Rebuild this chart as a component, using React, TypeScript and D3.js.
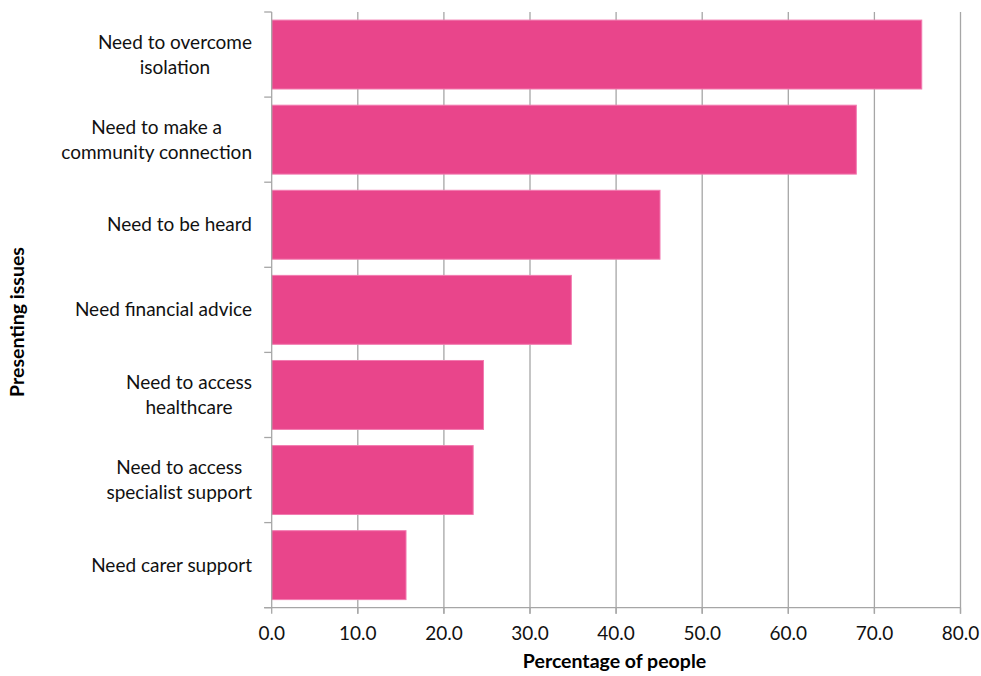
import React, { useEffect, useRef } from "react";
import * as d3 from "d3";

const categories = [
  "Need to overcome\nisolation",
  "Need to make a\ncommunity connection",
  "Need to be heard",
  "Need financial advice",
  "Need to access\nhealthcare",
  "Need to access\nspecialist support",
  "Need carer support",
];
const values = [75.5, 67.9, 45.1, 34.8, 24.6, 23.4, 15.6];
const xTicks = [0, 10, 20, 30, 40, 50, 60, 70, 80];
const xTitle = "Percentage of people";
const yTitle = "Presenting issues";

const W = 981;
const H = 676;
const FONT = "Lato, 'Open Sans', sans-serif";

export default function App() {
  const ref = useRef<SVGSVGElement | null>(null);

  useEffect(() => {
    const svg = d3.select(ref.current);
    svg.selectAll("*").remove();

    const left = 271.7;
    const right = 960.5;
    const top = 12;
    const bottom = 607.7;
    const grid = "#a6a6a6";
    const fs = 19;
    const tfs = 19.5;

    const x = d3.scaleLinear().domain([0, 80]).range([left, right]);
    const y = d3
      .scaleBand<number>()
      .domain(d3.range(categories.length))
      .range([top, bottom])
      .paddingInner(0.19)
      .paddingOuter(0.095);

    // gridlines
    svg
      .append("g")
      .selectAll("line")
      .data(xTicks.filter((t) => t > 0))
      .join("line")
      .attr("x1", (d) => x(d))
      .attr("x2", (d) => x(d))
      .attr("y1", top)
      .attr("y2", bottom + 6)
      .attr("stroke", grid)
      .attr("stroke-width", 1.3);

    // bars
    svg
      .append("g")
      .selectAll("rect")
      .data(values)
      .join("rect")
      .attr("x", x(0))
      .attr("y", (_, i) => y(i)!)
      .attr("width", (d) => x(d) - x(0))
      .attr("height", y.bandwidth())
      .attr("fill", "#e9458b")
      .attr("stroke", "#f27bb0")
      .attr("stroke-width", 1);

    // y axis line + ticks
    svg
      .append("line")
      .attr("x1", left)
      .attr("x2", left)
      .attr("y1", top)
      .attr("y2", bottom)
      .attr("stroke", grid)
      .attr("stroke-width", 1.3);
    const step = y.step();
    svg
      .append("g")
      .selectAll("line")
      .data(d3.range(categories.length + 1))
      .join("line")
      .attr("x1", left - 7.5)
      .attr("x2", left)
      .attr("y1", (i) => top + i * step)
      .attr("y2", (i) => top + i * step)
      .attr("stroke", grid)
      .attr("stroke-width", 1.3);

    // x axis line + ticks
    svg
      .append("line")
      .attr("x1", left - 7.5)
      .attr("x2", right)
      .attr("y1", bottom)
      .attr("y2", bottom)
      .attr("stroke", grid)
      .attr("stroke-width", 1.3);
    svg
      .append("g")
      .selectAll("line")
      .data(xTicks)
      .join("line")
      .attr("x1", (d) => x(d))
      .attr("x2", (d) => x(d))
      .attr("y1", bottom)
      .attr("y2", bottom + 6)
      .attr("stroke", grid)
      .attr("stroke-width", 1.3);

    // x tick labels
    svg
      .append("g")
      .selectAll("text")
      .data(xTicks)
      .join("text")
      .attr("x", (d) => x(d))
      .attr("y", 640)
      .attr("text-anchor", "middle")
      .attr("font-family", FONT)
      .attr("font-size", fs)
      .attr("fill", "#111")
      .text((d) => d3.format(".1f")(d));

    // category labels
    const labelRight = 252;
    categories.forEach((cat, i) => {
      const lines = cat.split("\n");
      const g = svg.append("g");
      const texts = lines.map((ln) =>
        g
          .append("text")
          .attr("font-family", FONT)
          .attr("font-size", fs)
          .attr("fill", "#111")
          .attr("text-anchor", "middle")
          .text(ln)
      );
      const widths = texts.map((t) => (t.node() as SVGTextElement).getComputedTextLength());
      const maxW = Math.max(...widths);
      const cx = labelRight - maxW / 2;
      const cy = y(i)! + y.bandwidth() / 2;
      texts.forEach((t, j) => {
        t.attr("x", cx).attr("y", cy + (j - (lines.length - 1) / 2) * 25 + 6.5);
      });
    });

    // axis titles
    svg
      .append("text")
      .attr("x", 614.5)
      .attr("y", 668)
      .attr("text-anchor", "middle")
      .attr("font-family", FONT)
      .attr("font-size", tfs)
      .attr("font-weight", "bold")
      .attr("fill", "#000")
      .text(xTitle);
    svg
      .append("text")
      .attr("transform", `translate(24,322) rotate(-90)`)
      .attr("text-anchor", "middle")
      .attr("font-family", FONT)
      .attr("font-size", tfs)
      .attr("font-weight", "bold")
      .attr("fill", "#000")
      .text(yTitle);
  }, []);

  return (
    <svg
      ref={ref}
      width={W}
      height={H}
      style={{ position: "absolute", left: 0, top: 0, background: "#fff" }}
    />
  );
}
